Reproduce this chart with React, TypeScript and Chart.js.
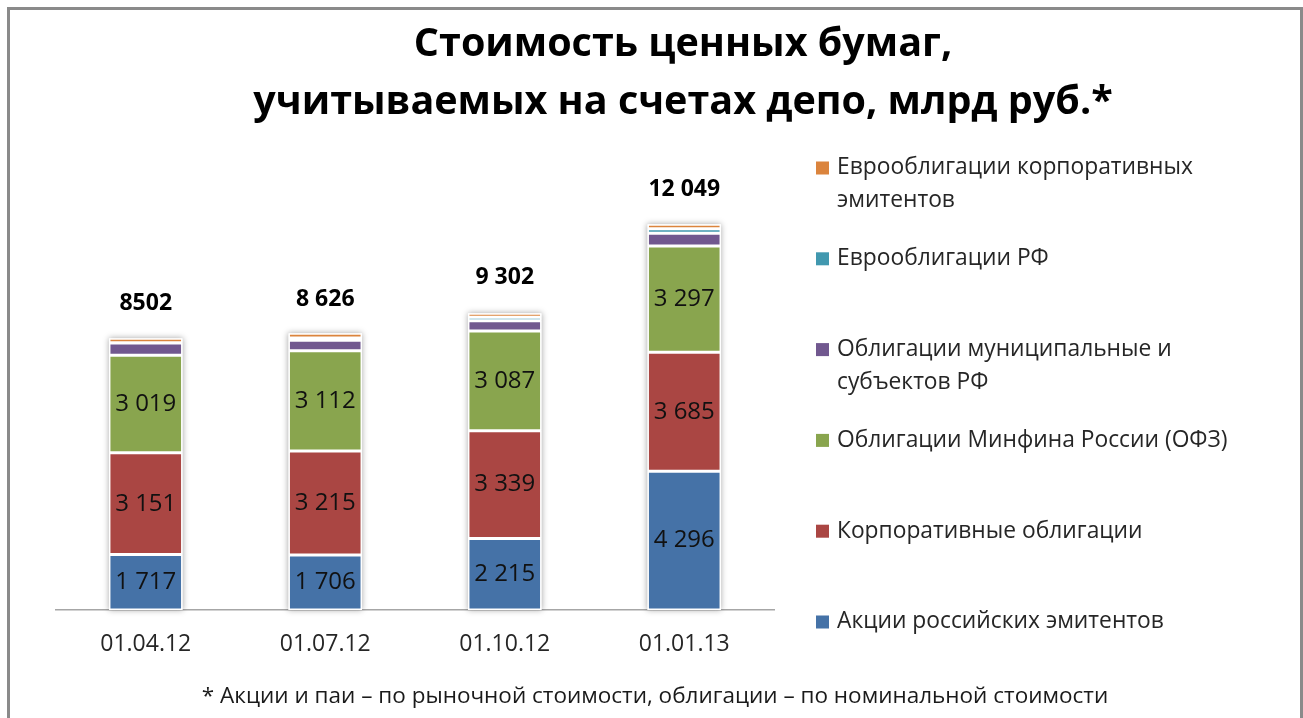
import React, { useEffect, useRef } from 'react';
import { Chart, registerables } from 'chart.js';

Chart.register(...registerables);

const categories = ['01.04.12', '01.07.12', '01.10.12', '01.01.13'];
const seriesNames = [
  'Акции российских эмитентов',
  'Корпоративные облигации',
  'Облигации Минфина России (ОФЗ)',
  'Облигации муниципальные и\nсубъектов РФ',
  'Еврооблигации РФ',
  'Еврооблигации корпоративных\nэмитентов',
];
const stocks = [1717, 1706, 2215, 4296];
const corpBonds = [3151, 3215, 3339, 3685];
const ofz = [3019, 3112, 3087, 3297];
const municipal = [384, 322, 320, 390];
const euroRF = [10, 70, 110, 140];
const euroCorp = [133, 145, 120, 140];
const totals = [8502, 8626, 9302, 12049];
const totalLabels = ['8502', '8 626', '9 302', '12 049'];
const colors = ['#4572A7', '#AA4643', '#89A54E', '#71588F', '#4198AF', '#DB843D'];
const titleLines = ['Стоимость ценных бумаг,', 'учитываемых на счетах депо, млрд руб.*'];
const footnote = '* Акции и паи – по рыночной стоимости, облигации – по номинальной стоимости';

const FONT = '"Open Sans", sans-serif';
const TEXT = '#262626';

const fmt = (v: number) => String(v).replace(/\B(?=(\d{3})+(?!\d))/g, ' ');

const shadowPlugin = {
  id: 'stackShadow',
  beforeDatasetsDraw(chart: any) {
    const ctx = chart.ctx;
    const n = chart.data.labels.length;
    for (let i = 0; i < n; i++) {
      let top = Infinity;
      let base = 0;
      let x = 0;
      let w = 0;
      chart.data.datasets.forEach((_: any, di: number) => {
        const el = chart.getDatasetMeta(di).data[i];
        const p = el.getProps(['x', 'y', 'base', 'width'], true);
        if (di === 0) {
          base = p.base;
          x = p.x;
          w = p.width;
        }
        top = Math.min(top, p.y);
      });
      ctx.save();
      ctx.shadowColor = 'rgba(0,0,0,0.35)';
      ctx.shadowBlur = 6;
      ctx.fillStyle = '#ffffff';
      ctx.fillRect(x - w / 2, top, w, base - top);
      ctx.restore();
    }
  },
};

const labelsPlugin = {
  id: 'valueLabels',
  afterDatasetsDraw(chart: any) {
    const ctx = chart.ctx;
    ctx.save();
    ctx.textAlign = 'center';
    ctx.textBaseline = 'middle';
    ctx.fillStyle = '#111111';
    ctx.font = `24px ${FONT}`;
    for (let di = 0; di < 3; di++) {
      const meta = chart.getDatasetMeta(di);
      meta.data.forEach((el: any, i: number) => {
        const c = el.getCenterPoint();
        ctx.fillText(fmt(chart.data.datasets[di].data[i]), c.x, c.y);
      });
    }
    const yScale = chart.scales.y;
    const meta0 = chart.getDatasetMeta(0);
    ctx.font = `bold 23px ${FONT}`;
    ctx.fillStyle = '#000000';
    totals.forEach((t, i) => {
      const x = meta0.data[i].x;
      ctx.fillText(totalLabels[i], x, yScale.getPixelForValue(t) - 32);
    });
    ctx.restore();
  },
};

const decorPlugin = {
  id: 'decor',
  afterDraw(chart: any) {
    const ctx = chart.ctx;
    const area = chart.chartArea;
    ctx.save();
    // title
    ctx.textAlign = 'center';
    ctx.textBaseline = 'middle';
    ctx.fillStyle = '#000000';
    ctx.font = `bold 39.5px ${FONT}`;
    titleLines.forEach((line, i) => ctx.fillText(line, 673, 35 + i * 58));
    // footnote
    ctx.font = `22.5px ${FONT}`;
    ctx.fillStyle = '#1a1a1a';
    ctx.fillText(footnote, chart.width / 2, 687);
    // legend
    ctx.textAlign = 'left';
    ctx.font = `22.8px ${FONT}`;
    const ds = chart.data.datasets;
    const count = ds.length;
    const legendX = area.right + 42;
    const startY = area.top + 10;
    const step = 90.8;
    for (let k = 0; k < count; k++) {
      const di = count - 1 - k;
      const y = startY + k * step;
      ctx.fillStyle = ds[di].backgroundColor;
      ctx.fillRect(legendX, y - 6.5, 13, 13);
      ctx.fillStyle = TEXT;
      String(ds[di].label)
        .split('\n')
        .forEach((line: string, li: number) => ctx.fillText(line, legendX + 21, y + li * 33));
    }
    ctx.restore();
  },
};

export default function App() {
  const ref = useRef<HTMLCanvasElement>(null);
  useEffect(() => {
    document.body.style.margin = '0';
    const series = [stocks, corpBonds, ofz, municipal, euroRF, euroCorp];
    const chart = new Chart(ref.current as HTMLCanvasElement, {
      type: 'bar',
      data: {
        labels: categories,
        datasets: series.map((d, i) => ({
          label: seriesNames[i],
          data: d,
          backgroundColor: colors[i],
          borderColor: '#ffffff',
          borderWidth: 1.5,
          borderSkipped: false,
          barPercentage: 0.41,
          categoryPercentage: 1,
        })),
      },
      options: {
        responsive: false,
        animation: false,
        devicePixelRatio: 1,
        layout: { padding: { left: 46, right: 526, top: 148, bottom: 48 } },
        plugins: {
          legend: { display: false },
          title: { display: false },
          tooltip: { enabled: false },
        },
        scales: {
          x: {
            stacked: true,
            grid: { display: false, drawTicks: false },
            border: { display: true, color: '#a6a6a6', width: 1.5 },
            ticks: { color: TEXT, font: { family: FONT, size: 23 }, padding: 21 },
            afterFit: (a: any) => {
              a.height = 60;
            },
          },
          y: { stacked: true, display: false, min: 0, max: 14000 },
        },
      } as any,
      plugins: [shadowPlugin, labelsPlugin, decorPlugin],
    });
    return () => chart.destroy();
  }, []);

  return (
    <div
      style={{
        position: 'absolute',
        left: 7,
        top: 7,
        width: 1296,
        height: 711,
        boxSizing: 'border-box',
        border: '3px solid #8a8a8a',
        borderBottom: 'none',
        background: '#ffffff',
      }}
    >
      <canvas ref={ref} width={1290} height={708} style={{ display: 'block' }} />
    </div>
  );
}
